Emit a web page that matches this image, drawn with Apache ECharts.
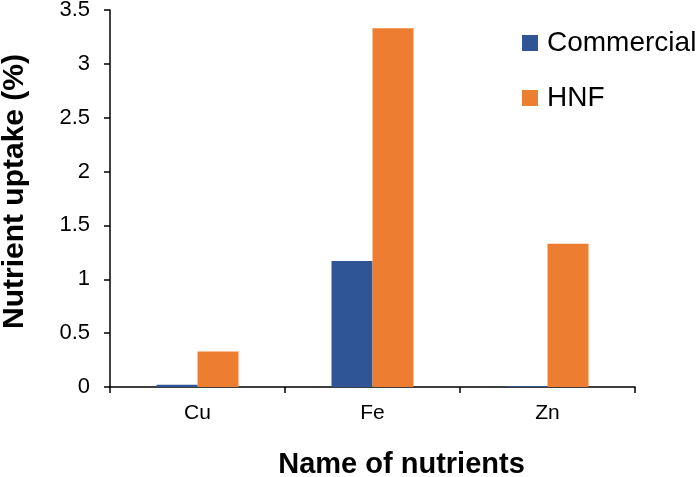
<!DOCTYPE html>
<html>
<head>
<meta charset="utf-8">
<script src="https://cdn.jsdelivr.net/npm/echarts@6/dist/echarts.min.js"></script>
<style>html,body{margin:0;padding:0;background:#fff}#c{width:700px;height:477px}</style>
</head>
<body>
<div id="c"></div>
<script>
const categories = ['Cu', 'Fe', 'Zn'];
const commercial = [0.02, 1.17, 0.01];
const hnf = [0.33, 3.33, 1.33];
const seriesNames = ['Commercial', 'HNF'];
const font = '"Liberation Sans", Arial, sans-serif';

const chart = echarts.init(document.getElementById('c'), null, {renderer: 'canvas'});
chart.setOption({
  animation: false,
  backgroundColor: '#fff',
  grid: {left: 110, right: 65, top: 10, bottom: 90, containLabel: false, outerBoundsMode: 'none'},
  legend: {
    orient: 'vertical', left: 517, top: 23,
    icon: 'rect', itemWidth: 16, itemHeight: 16, itemGap: 25,
    textStyle: {fontFamily: font, fontSize: 28, color: '#000', lineHeight: 30, padding: [0, 0, 0, 4]},
    data: seriesNames
  },
  xAxis: {
    type: 'category', data: categories,
    name: 'Name of nutrients', nameLocation: 'middle', nameGap: 63,
    nameTextStyle: {fontFamily: font, fontSize: 29, fontWeight: 'bold', color: '#000', padding: [0, 0, 0, 58]},
    axisLine: {lineStyle: {color: '#000', width: 1.5}},
    axisTick: {show: true, alignWithLabel: false, length: 6, lineStyle: {color: '#000', width: 1.5}},
    axisLabel: {fontFamily: font, fontSize: 21, color: '#000', margin: 16}
  },
  yAxis: {
    type: 'value', min: 0, max: 3.5, interval: 0.5,
    name: 'Nutrient uptake (%)', nameLocation: 'middle', nameGap: 80,
    nameTextStyle: {fontFamily: font, fontSize: 30, fontWeight: 'bold', color: '#000', padding: [0, 0, 0, 14]},
    axisLine: {show: true, lineStyle: {color: '#000', width: 1.5}},
    axisTick: {show: true, length: 6, lineStyle: {color: '#000', width: 1.5}},
    axisLabel: {fontFamily: font, fontSize: 22, color: '#000', margin: 20},
    splitLine: {show: false}
  },
  series: [
    {name: seriesNames[0], type: 'bar', data: commercial, barWidth: 41, barGap: '0%', itemStyle: {color: '#2F5597'}},
    {name: seriesNames[1], type: 'bar', data: hnf, barWidth: 41, barGap: '0%', itemStyle: {color: '#ED7D31'}}
  ]
});
</script>
</body>
</html>
